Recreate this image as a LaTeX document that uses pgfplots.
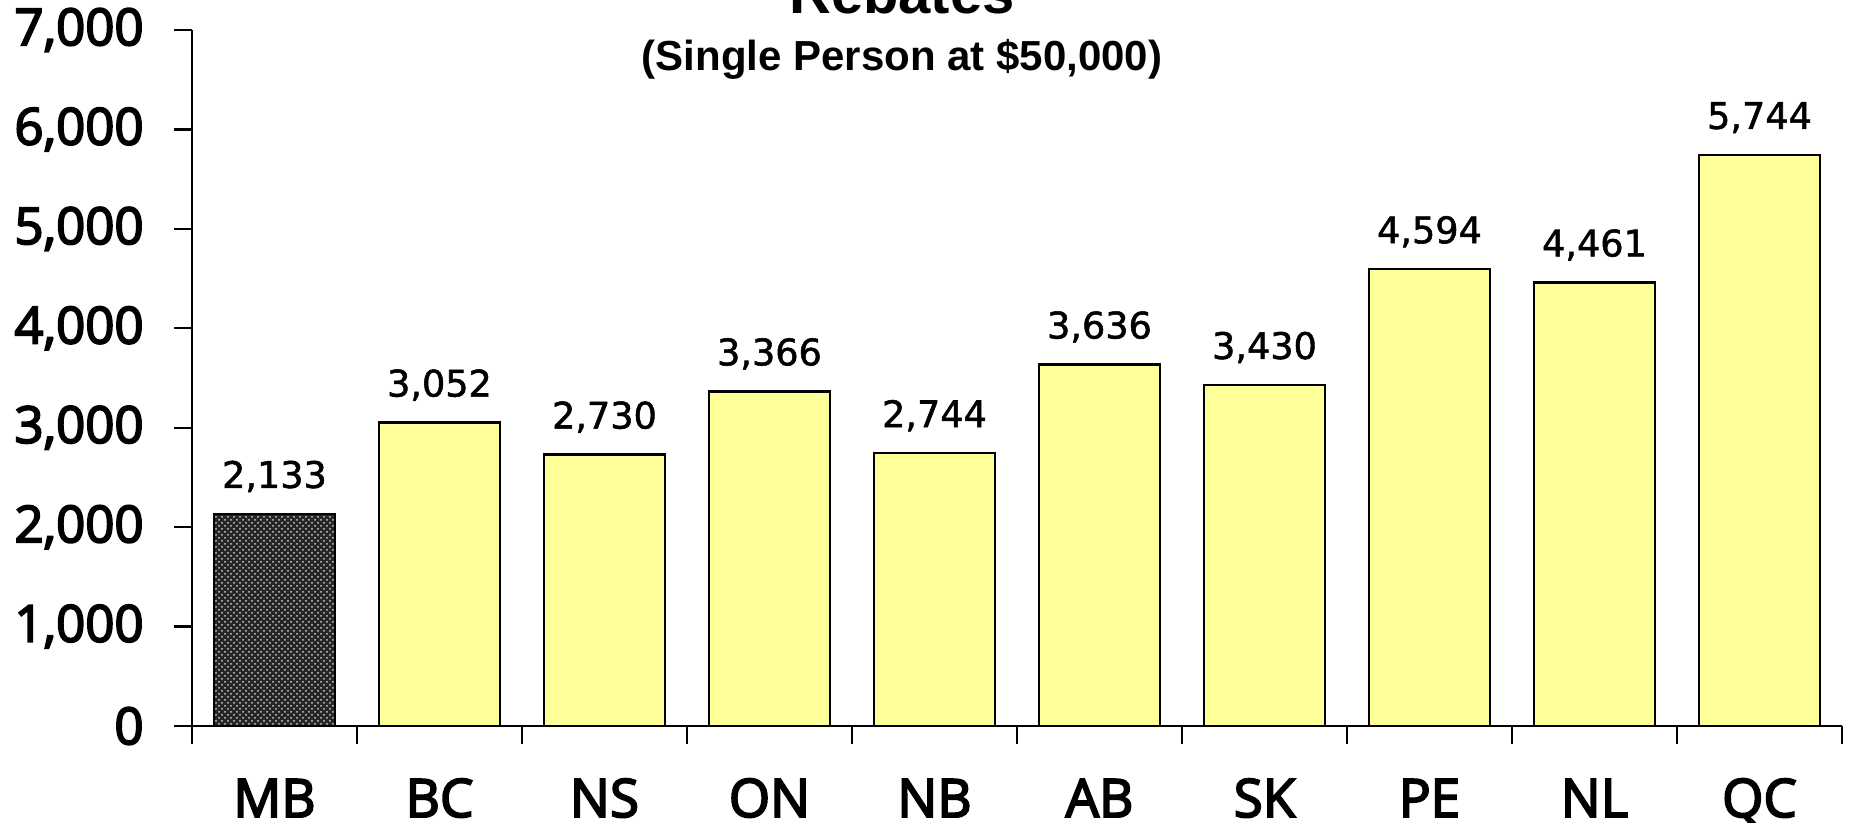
\documentclass[border=0pt]{standalone}
\usepackage{fontspec}
\setmainfont{Liberation Sans}
\newfontfamily\tickfont{Open Sans}[FakeBold=3.5]
\newfontfamily\valfont{DejaVu Sans}[FakeBold=1.5]
\usepackage{pgfplots}
\pgfplotsset{compat=1.18}
\usetikzlibrary{patterns}
\definecolor{baryellow}{HTML}{FFFF99}
\begin{document}
\begin{tikzpicture}
\begin{axis}[
  at={(0,0)}, anchor=south west,
  scale only axis, width=825pt, height=348pt,
  xmin=-0.5, xmax=9.5, ymin=0, ymax=7000,
  axis x line*=bottom, axis y line*=left,
  axis line style={line width=1.2pt, -},
  ybar, bar width=60.5pt, bar shift=0pt,
  xtick={-0.5,0.5,...,9.5},
  x tick label as interval=true,
  xticklabels={MB,BC,NS,ON,NB,AB,SK,PE,NL,QC},
  x tick style={line width=1.2pt, black},
  ytick={0,1000,...,7000},
  y tick style={line width=1.2pt, black},
  major tick length=9pt,
  tick align=outside,
  /pgf/number format/.cd, 1000 sep={,}, assume math mode=true, /pgfplots/.cd,
  yticklabel style={font=\tickfont\fontsize{25.5}{29}\selectfont, anchor=east, inner sep=0pt, xshift=-15pt},
  xticklabel style={font=\tickfont\fontsize{26.5}{30}\selectfont, anchor=base, inner sep=0pt, yshift=-36.5pt},
  nodes near coords={\pgfmathprintnumber{\pgfplotspointmeta}},
  every node near coord/.append style={font=\valfont\fontsize{18.3}{22}\selectfont, anchor=base, inner sep=0pt, yshift=13pt},
  clip=false,
]
\addplot[draw=black, line width=1.2pt, fill=black!85, postaction={pattern=crosshatch dots, pattern color=white!80!black}] coordinates {(0,2133)};
\addplot[draw=black, line width=1.2pt, fill=baryellow] coordinates {(1,3052) (2,2730) (3,3366) (4,2744) (5,3636) (6,3430) (7,4594) (8,4461) (9,5744)};
\end{axis}
\node[anchor=base, inner sep=0pt, font=\bfseries\fontsize{29}{34}\selectfont] at (355pt,356pt) {Rebates};
\node[anchor=base, inner sep=0pt, font=\bfseries\fontsize{21}{25}\selectfont] at (355pt,327.5pt) {(Single Person at \$50,000)};
\pgfresetboundingbox
\useasboundingbox (-96pt,-48.5pt) rectangle (828.5pt,363pt);
\end{tikzpicture}
\end{document}
